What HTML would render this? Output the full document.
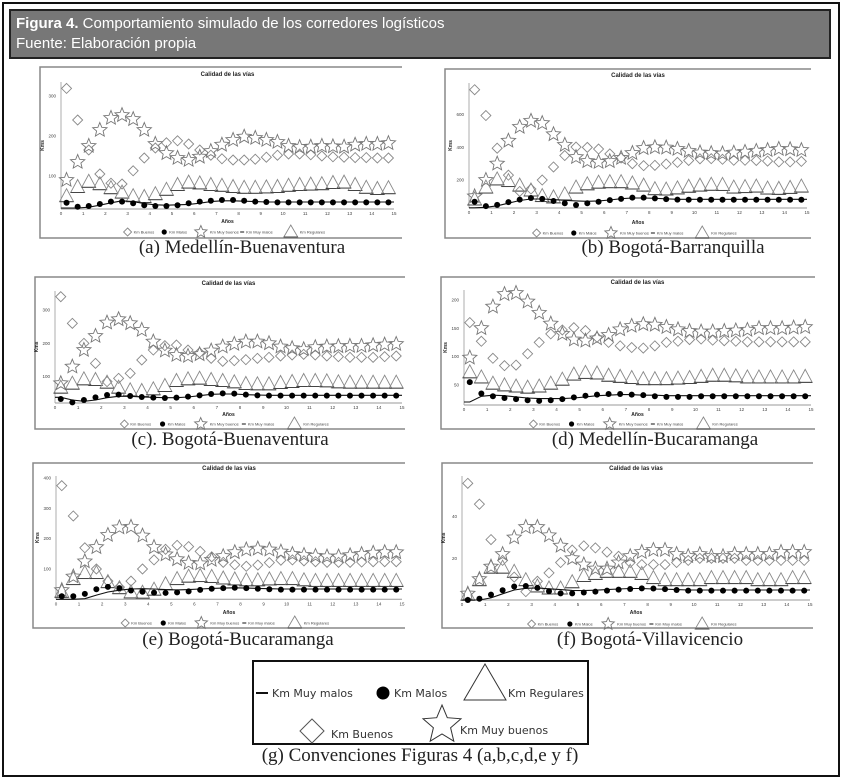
<!DOCTYPE html>
<html><head><meta charset="utf-8"><style>
html,body{margin:0;padding:0;background:#fff;}
svg{display:block;font-family:"Liberation Sans",sans-serif;}
</style></head><body>
<svg id="fig" width="842" height="780" viewBox="0 0 842 780">
<rect x="3" y="3" width="836" height="773" fill="#fff" stroke="#111" stroke-width="2"/>
<rect x="10" y="10" width="820" height="48" fill="#777" stroke="#222" stroke-width="2"/>
<text x="16" y="28" fill="#fff" font-size="15"><tspan font-weight="bold">Figura 4.</tspan> Comportamiento simulado de los corredores logísticos</text>
<text x="16" y="48" fill="#fff" font-size="15">Fuente: Elaboración propia</text>
<g id="panels"></g>
<g id="conv">
<rect x="253" y="661" width="335" height="83" fill="#fff" stroke="#111" stroke-width="2"/>
<line x1="256" y1="693" x2="268" y2="693" stroke="#111" stroke-width="2"/>
<text x="272" y="697" font-size="11" fill="#333" font-family="DejaVu Sans, sans-serif">Km Muy malos</text>
<circle cx="383" cy="693" r="6.5" fill="#000"/>
<text x="394" y="697" font-size="11" fill="#333" font-family="DejaVu Sans, sans-serif">Km Malos</text>
<polygon points="485,664 464,700 506,700" fill="#fff" stroke="#333" stroke-width="1"/>
<text x="508" y="697" font-size="11" fill="#333" font-family="DejaVu Sans, sans-serif">Km Regulares</text>
<polygon points="312,719 324,731 312,743 300,731" fill="#fff" stroke="#555" stroke-width="1"/>
<text x="331" y="738" font-size="11" fill="#333" font-family="DejaVu Sans, sans-serif">Km Buenos</text>
<g id="bigstar"></g>
<text x="460" y="734" font-size="11" fill="#333" font-family="DejaVu Sans, sans-serif">Km Muy buenos</text>
<text x="420" y="761" font-size="19" text-anchor="middle" fill="#222" font-family="Liberation Serif, serif">(g) Convenciones Figuras 4 (a,b,c,d,e y f)</text>
</g>
</svg>
<script>
const years = [0.25,0.75,1.25,1.75,2.25,2.75,3.25,3.75,4.25,4.75,5.25,5.75,6.25,6.75,7.25,7.75,8.25,8.75,9.25,9.75,10.25,10.75,11.25,11.75,12.25,12.75,13.25,13.75,14.25,14.75];
const xTicks = [0,1,2,3,4,5,6,7,8,9,10,11,12,13,14,15];
const legendLabels = ["Km Buenos","Km Malos","Km Muy buenos","Km Muy malos","Km Regulares"];

const aBuenos = [319,240,165,105,82,80,113,145,170,183,188,180,165,152,143,140,140,142,147,152,155,155,153,150,148,147,146,146,145,145];
const aMuyBuenos = [90,135,175,215,245,252,242,215,180,157,145,140,148,162,178,190,198,195,190,185,175,172,173,175,174,173,178,180,180,182];
const aRegulares = [52,75,88,82,72,61,52,50,57,68,80,86,84,80,78,75,73,73,74,75,78,80,81,82,85,86,80,73,70,72];
const aMalos = [33,23,25,30,36,36,32,27,25,25,27,32,36,38,40,40,38,36,35,34,34,34,34,34,34,34,34,34,34,34];
const aMuyMalos = [20,20,22,27,33,38,36,31,28,27,28,29,32,36,38,38,37,36,35,35,35,35,35,35,35,35,35,35,35,35];
const aTicks = [100,200,300];

const bBuenos = [753,595,395,230,130,145,200,280,350,402,400,390,360,335,300,288,290,298,308,320,330,331,327,321,321,320,316,311,311,314];
const bMuyBuenos = [100,200,300,440,525,562,548,480,415,340,315,310,315,335,365,395,400,398,390,378,368,364,362,367,372,378,383,390,388,383];
const bRegulares = [87,160,210,200,172,142,108,100,118,160,180,190,193,193,185,172,150,148,155,165,172,177,176,160,163,166,154,152,158,166];
const bMalos = [67,40,48,65,80,90,85,72,58,47,58,67,77,85,92,92,88,83,80,79,79,79,79,79,79,79,79,79,79,79];
const bMuyMalos = [30,33,42,58,75,84,84,80,76,72,70,72,78,86,90,90,88,85,82,82,82,82,82,82,82,82,82,82,82,82];
const bTicks = [200,400,600];

const cBuenos = [340,260,200,140,85,95,110,150,180,193,195,180,172,155,146,148,151,155,158,162,165,167,165,162,160,158,158,158,160,162];
const cMuyBuenos = [80,130,180,222,262,272,260,240,205,178,165,162,167,178,190,198,205,205,200,190,185,182,188,190,191,192,192,194,196,198];
const cRegulares = [70,82,95,93,85,70,62,60,65,75,90,95,97,93,90,86,81,80,80,84,87,90,90,89,86,85,85,85,85,85];
const cMalos = [33,23,30,38,45,46,42,39,37,36,37,40,44,48,50,49,46,44,43,43,43,43,43,43,43,43,43,43,43,43];
const cMuyMalos = [38,30,26,30,37,41,41,39,38,37,37,39,43,47,48,48,46,45,44,44,44,44,44,44,44,44,44,44,44,44];
const cTicks = [100,200,300];

const dBuenos = [160,127,97,84,85,105,125,140,147,151,146,134,125,119,116,115,119,125,127,130,131,129,128,127,126,126,126,126,126,126];
const dMuyBuenos = [98,150,188,210,212,197,177,158,140,130,128,132,138,148,154,157,156,152,148,145,144,144,145,146,147,150,150,150,151,152];
const dRegulares = [74,65,54,51,49,47,49,54,61,70,73,72,68,66,64,62,62,62,63,64,66,68,68,67,65,65,65,65,65,66];
const dMalos = [55,35,30,27,25,23,22,23,25,28,31,33,34,34,33,32,30,29,29,29,30,30,30,30,30,30,30,30,30,30];
const dMuyMalos = [20,30,32,31,29,27,26,26,26,27,29,31,32,33,33,32,32,31,31,31,31,31,31,31,31,31,31,31,31,31];
const dTicks = [50,100,150,200];

const eBuenos = [375,275,170,100,60,40,60,100,130,165,178,174,158,140,122,114,109,113,121,129,130,127,124,122,122,122,123,124,124,124];
const eMuyBuenos = [30,75,125,172,212,237,239,210,172,148,132,120,118,130,142,155,164,167,164,157,149,146,143,141,141,145,149,153,155,155];
const eRegulares = [28,70,90,90,60,40,26,25,35,53,70,78,80,77,72,69,66,66,69,70,70,66,64,64,64,64,64,64,64,64];
const eMalos = [10,10,18,33,41,37,29,25,22,21,23,26,31,35,37,38,37,35,33,32,32,32,32,32,32,32,32,32,32,32];
const eMuyMalos = [0,0,2,14,24,30,34,35,34,32,31,32,34,36,37,38,37,36,35,34,34,34,34,34,34,34,34,34,34,34];
const eTicks = [100,200,300,400];

const fBuenos = [56,46,29,19,11,4,9,13,18,24,26,25,23,21,18,17,17,17,18,19,20,20,20,20,19,19,19,19,19,19];
const fMuyBuenos = [3,10,16,22,30,35,35,31,26,20,17,15,15,18,21,23,24,24,22,21,22,21,21,22,22,22,22,23,23,23];
const fRegulares = [3,10,16,16,14,10,7,6,6,9,12,13,14,14,14,13,11,10,10,10,10,11,11,11,11,10,10,10,11,11];
const fMalos = [0,0.6,2.6,4.7,6.5,6.7,5.8,4.2,3.2,3.2,3.6,4,4.5,5,5.3,5.6,5.5,5.2,4.8,4.5,4.5,4.5,4.5,4.5,4.5,4.5,4.5,4.5,4.5,4.5];
const fMuyMalos = [0,0,1,3,4.8,5.6,5.8,5.4,5,4.6,4.5,4.7,5,5.3,5.5,5.5,5.3,5.2,5,4.8,4.8,4.8,4.8,4.8,4.8,4.8,4.8,4.8,4.8,4.8];
const fTicks = [20,40];

const NS = "http://www.w3.org/2000/svg";
function mk(tag, attrs, parent){
  const e = document.createElementNS(NS, tag);
  for (const k in attrs) e.setAttribute(k, attrs[k]);
  parent.appendChild(e);
  return e;
}
function starPts(cx, cy, r){
  const p = [];
  for (let i = 0; i < 10; i++){
    const rr = i % 2 ? r * 0.45 : r;
    const a = -Math.PI / 2 + i * Math.PI / 5;
    p.push((cx + rr * Math.cos(a)).toFixed(1) + "," + (cy + rr * Math.sin(a)).toFixed(1));
  }
  return p.join(" ");
}
function diamond(g, cx, cy, s, name){
  const e = mk("polygon", {points:`${cx},${cy-s} ${cx+s},${cy} ${cx},${cy+s} ${cx-s},${cy}`, fill:"#fff", "fill-opacity":"0", stroke:"#888", "stroke-width":"0.9"}, g);
  
  
}
function star(g, cx, cy, r, name){
  const e = mk("polygon", {points:starPts(cx, cy, r), fill:"none", stroke:"#777", "stroke-width":"0.9"}, g);
  
  
}
function tri(g, cx, cy, w, h, name){
  const e = mk("polygon", {points:`${cx},${cy-h/2} ${cx+w/2},${cy+h/2} ${cx-w/2},${cy+h/2}`, fill:"none", stroke:"#888", "stroke-width":"0.9"}, g);
  
  
  const b = mk("line", {x1:cx-w/2, y1:cy+h/2, x2:cx+w/2, y2:cy+h/2, stroke:"#444", "stroke-width":"1"}, g);
  
  
}

const panels = [
  {id:"a", cap:"(a) Medellín-Buenaventura", fx:40, fy:67, fr:402, fb:238, x0:61, x15:394, yZero:216, k:0.4, axisY:209, ticks:aTicks, title:76, anos:223, leg:232, capX:242, capY:253,
   buenos:aBuenos, muyBuenos:aMuyBuenos, regulares:aRegulares, malos:aMalos, muyMalos:aMuyMalos},
  {id:"b", cap:"(b) Bogotá-Barranquilla", fx:445, fy:69, fr:811, fb:238, x0:469, x15:807, yZero:212.7, k:0.1633, axisY:208, ticks:bTicks, title:77, anos:224, leg:233, capX:673, capY:253,
   buenos:bBuenos, muyBuenos:bMuyBuenos, regulares:bRegulares, malos:bMalos, muyMalos:bMuyMalos},
  {id:"c", cap:"(c). Bogotá-Buenaventura", fx:35, fy:277, fr:405, fb:429, x0:55, x15:402, yZero:410, k:0.3333, axisY:403, ticks:cTicks, title:285, anos:416, leg:424, capX:230, capY:445,
   buenos:cBuenos, muyBuenos:cMuyBuenos, regulares:cRegulares, malos:cMalos, muyMalos:cMuyMalos},
  {id:"d", cap:"(d) Medellín-Bucaramanga", fx:441, fy:277, fr:815, fb:429, x0:464, x15:811, yZero:413.3, k:0.567, axisY:405, ticks:dTicks, title:284, anos:416, leg:424, capX:655, capY:445,
   buenos:dBuenos, muyBuenos:dMuyBuenos, regulares:dRegulares, malos:dMalos, muyMalos:dMuyMalos},
  {id:"e", cap:"(e) Bogotá-Bucaramanga", fx:33, fy:463, fr:405, fb:628, x0:56, x15:402, yZero:599.3, k:0.303, axisY:599.3, ticks:eTicks, title:470, anos:614, leg:623, capX:238, capY:645,
   buenos:eBuenos, muyBuenos:eMuyBuenos, regulares:eRegulares, malos:eMalos, muyMalos:eMuyMalos},
  {id:"f", cap:"(f) Bogotá-Villavicencio", fx:442, fy:463, fr:813, fb:628, x0:462, x15:810, yZero:600, k:2.083, axisY:600, ticks:fTicks, title:470, anos:614, leg:624, capX:650, capY:645,
   buenos:fBuenos, muyBuenos:fMuyBuenos, regulares:fRegulares, malos:fMalos, muyMalos:fMuyMalos}
];

const root = document.getElementById("panels");
panels.forEach(p => {
  const g = mk("g", {}, root);
  
  
  const xs = t => p.x0 + (p.x15 - p.x0) * t / 15;
  const ys = v => p.yZero - v * p.k;
  const fr = mk("polyline", {points:`${p.fr},${p.fy} ${p.fx},${p.fy} ${p.fx},${p.fb} ${p.fr},${p.fb}`, fill:"none", stroke:"#888", "stroke-width":"1.5"}, g);
  
  
  const tt = mk("text", {x:(p.x0+p.x15)/2, y:p.title, "font-size":"6", "font-weight":"bold", "text-anchor":"middle", fill:"#222"}, g);
  tt.textContent = "Calidad de las vías";
  
  
  const topY = p.title + 6;
  const ya = mk("line", {x1:p.x0, y1:topY, x2:p.x0, y2:p.axisY, stroke:"#999", "stroke-width":"0.8"}, g);
  
  
  const xa = mk("line", {x1:p.x0, y1:p.axisY, x2:p.x15, y2:p.axisY, stroke:"#999", "stroke-width":"1"}, g);
  
  
  xTicks.forEach(t => {
    const l = mk("text", {x:xs(t), y:p.axisY + 6, "font-size":"4.5", "text-anchor":"middle", fill:"#444"}, g);
    l.textContent = t;
    
    
  });
  p.ticks.forEach(v => {
    const l = mk("text", {x:p.x0 - 5, y:ys(v) + 1.5, "font-size":"4.5", "text-anchor":"end", fill:"#444"}, g);
    l.textContent = v;
    
    
  });
  const yt = mk("text", {x:p.x0 - 17, y:(topY + p.axisY)/2, "font-size":"5", "font-weight":"bold", "text-anchor":"middle", fill:"#222", transform:`rotate(-90 ${p.x0-17} ${(topY+p.axisY)/2})`}, g);
  yt.textContent = "Kms";
  
  
  const xt = mk("text", {x:(p.x0+p.x15)/2, y:p.anos, "font-size":"5", "font-weight":"bold", "text-anchor":"middle", fill:"#222"}, g);
  xt.textContent = "Años";
  
  
  p.regulares.forEach((v, i) => tri(g, xs(years[i]), ys(v), 14, 13, 'regulares-marker'));
  p.buenos.forEach((v, i) => diamond(g, xs(years[i]), ys(v), 5, 'buenos-marker'));
  p.muyBuenos.forEach((v, i) => star(g, xs(years[i]), ys(v), 7.5, 'muy-buenos-marker'));
  const pts = [[xs(0), ys(p.muyMalos[0])]].concat(p.muyMalos.map((v, i) => [xs(years[i]), ys(v)])).concat([[xs(15), ys(p.muyMalos[p.muyMalos.length-1])]]);
  const ln = mk("polyline", {points:pts.map(q => q[0].toFixed(1) + "," + q[1].toFixed(1)).join(" "), fill:"none", stroke:"#111", "stroke-width":"1.1"}, g);
  
  
  p.malos.forEach((v, i) => {
    const c = mk("circle", {cx:xs(years[i]), cy:ys(v), r:3, fill:"#000"}, g);
    
    
  });
  const W = p.x15 - p.x0, ly = p.leg;
  const lx = [0.2, 0.31, 0.42, 0.55, 0.69].map(f => p.x0 + f * W);
  diamond(g, lx[0], ly, 4, 'legend-icon-buenos');
  const dc = mk("circle", {cx:lx[1], cy:ly, r:2.6, fill:"#000"}, g);
  
  
  star(g, lx[2], ly, 6.5, 'legend-icon-muy-buenos');
  const ml = mk("line", {x1:lx[3]-4, y1:ly, x2:lx[3], y2:ly, stroke:"#111", "stroke-width":"1"}, g);
  
  
  tri(g, lx[4], ly - 1, 14, 12, 'legend-icon-regulares');
  const offs = [6, 5, 9, 2, 9];
  legendLabels.forEach((s, i) => {
    const t = mk("text", {x:lx[i] + offs[i], y:ly + 1.5, "font-size":"4", fill:"#444"}, g);
    t.textContent = s;
    
    
  });
  const cp = mk("text", {x:p.capX, y:p.capY, "font-size":"19", "text-anchor":"middle", fill:"#222", "font-family":"Liberation Serif, serif"}, g);
  cp.textContent = p.cap;
  
  
});
const bs = mk("polygon", {points:starPts(442, 725, 20), fill:"#fff", stroke:"#333", "stroke-width":"1"}, document.getElementById("bigstar"));


</script>
</body></html>
